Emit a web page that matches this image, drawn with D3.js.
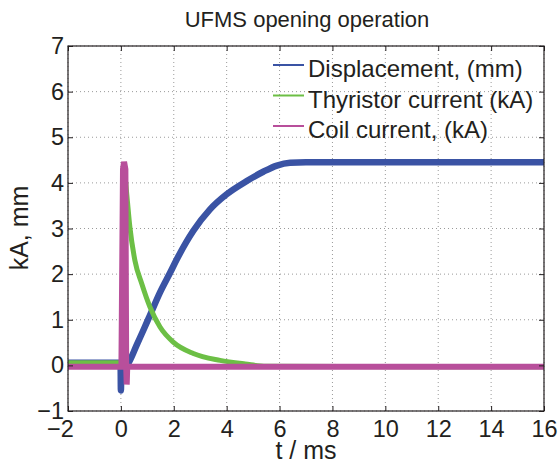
<!DOCTYPE html>
<html>
<head>
<meta charset="utf-8">
<script src="https://cdn.jsdelivr.net/npm/d3@7"></script>
<style>
body { margin: 0; background: #fff; }
text { font-family: "Liberation Sans", Arial, sans-serif; fill: #231f20; }
</style>
</head>
<body>
<svg width="560" height="464"></svg>
<script>
// tick values
var xTicks = [-2, 0, 2, 4, 6, 8, 10, 12, 14, 16];
var yTicks = [-1, 0, 1, 2, 3, 4, 5, 6, 7];

// displacement (mm)
var dispT = [-2, -0.01, 0.0, 0.02, 0.25, 0.28, 0.34, 0.6, 0.85, 1.1, 1.48, 1.86, 2.11, 2.74, 3.37, 4.0, 4.76, 5.4, 5.9, 6.4, 7.0, 16];
var dispV = [0.06, 0.06, -0.55, 0.02, 0.04, 0.05, 0.11, 0.45, 0.77, 1.1, 1.6, 2.03, 2.32, 2.95, 3.42, 3.75, 4.04, 4.25, 4.38, 4.44, 4.45, 4.45];

// thyristor current (kA)
var thyT = [-2, 0.1, 0.17, 0.22, 0.34, 0.53, 0.79, 1.1, 1.48, 1.98, 2.74, 3.75, 4.7, 5.5, 16];
var thyV = [0.06, 0.06, 4.05, 3.76, 3.03, 2.3, 1.79, 1.28, 0.84, 0.51, 0.26, 0.11, 0.03, -0.02, -0.03];

// coil current (kA)
var coilT = [-2, 0.02, 0.08, 0.12, 0.17, 0.2, 0.22, 0.24, 16];
var coilV = [-0.03, -0.03, 4.3, 4.46, 4.3, 0.0, -0.42, -0.03, -0.03];

var seriesNames = ["Displacement, (mm)", "Thyristor current (kA)", "Coil current, (kA)"];
var seriesColors = ["#3a53a4", "#6cbf45", "#b84f9b"];
var seriesWidths = [6.5, 5, 6];

var svg = d3.select("svg");
var pL = 68, pR = 544, pT = 46, pB = 411;

var x = d3.scaleLinear().domain([-2, 16]).range([pL, pR]);
var y = d3.scaleLinear().domain([-1, 7]).range([pB, pT]);

// grid
svg.append("g").selectAll("line").data(xTicks).enter().append("line")
    .attr("x1", (d) => x(d)).attr("x2", (d) => x(d))
    .attr("y1", pT).attr("y2", pB)
    .attr("stroke", "#9a9a9a").attr("stroke-dasharray", "1,3");
svg.append("g").selectAll("line").data(yTicks).enter().append("line")
    .attr("y1", (d) => y(d)).attr("y2", (d) => y(d))
    .attr("x1", pL).attr("x2", pR)
    .attr("stroke", "#9a9a9a").attr("stroke-dasharray", "1,3");

svg.append("clipPath").attr("id", "clip").append("rect")
    .attr("x", pL).attr("y", pT).attr("width", pR - pL).attr("height", pB - pT);

var smooth = d3.line().x((d) => x(d[0])).y((d) => y(d[1])).curve(d3.curveMonotoneX);
var sharp = d3.line().x((d) => x(d[0])).y((d) => y(d[1]));
var series = [d3.zip(dispT, dispV), d3.zip(thyT, thyV), d3.zip(coilT, coilV)];

svg.append("g").attr("clip-path", "url(#clip)")
    .selectAll("path").data(series).enter().append("path")
    .attr("d", (d, i) => i < 2 ? smooth(d) : sharp(d))
    .attr("fill", "none")
    .attr("stroke", (d, i) => seriesColors[i])
    .attr("stroke-width", (d, i) => seriesWidths[i])
    .attr("stroke-linejoin", "miter");

// axes (ticks inside, MATLAB style)
var fmt = (d) => d < 0 ? "\u2212" + Math.abs(d) : "" + d;
svg.append("g").attr("transform", "translate(0," + pB + ")")
    .call(d3.axisBottom(x).tickValues(xTicks).tickSize(-5).tickPadding(9.5).tickFormat(fmt))
    .selectAll(".tick text").attr("dx", (d) => d < 0 ? -8 : 0);
svg.append("g").attr("transform", "translate(0," + pT + ")")
    .call(d3.axisTop(x).tickValues(xTicks).tickSize(-5).tickFormat(""));
svg.append("g").attr("transform", "translate(" + pL + ",0)")
    .call(d3.axisLeft(y).tickValues(yTicks).tickSize(-5).tickPadding(4).tickFormat(fmt));
svg.append("g").attr("transform", "translate(" + pR + ",0)")
    .call(d3.axisRight(y).tickValues(yTicks).tickSize(-5).tickFormat(""));

svg.selectAll(".domain").remove();
svg.selectAll(".tick line").attr("stroke", "#231f20");
svg.selectAll(".tick text").style("font-size", "23.5px").attr("fill", "#231f20")
    .style("font-family", "Liberation Sans, Arial, sans-serif");

svg.append("rect").attr("x", pL).attr("y", pT)
    .attr("width", pR - pL).attr("height", pB - pT)
    .attr("fill", "none").attr("stroke", "#231f20").attr("stroke-width", 1.2);

// labels
svg.append("text").attr("x", 307).attr("y", 27).attr("text-anchor", "middle")
    .style("font-size", "22px").text("UFMS opening operation");
svg.append("text").attr("x", 306).attr("y", 459).attr("text-anchor", "middle")
    .style("font-size", "25px").text("t / ms");
svg.append("text").attr("transform", "translate(28," + 228 + ") rotate(-90)")
    .attr("text-anchor", "middle").style("font-size", "25px").text("kA, mm");

// legend
var lg = svg.append("g").selectAll("g").data(seriesNames).enter().append("g")
    .attr("transform", (d, i) => "translate(273," + (65 + i * 30.5) + ")");
lg.append("line").attr("x1", 0).attr("x2", 31).attr("y1", 0).attr("y2", 0)
    .attr("stroke", (d, i) => seriesColors[i]).attr("stroke-width", 2);
lg.append("text").attr("x", 35).attr("y", 12.3).style("font-size", "24px").text((d) => d);
</script>
</body>
</html>
